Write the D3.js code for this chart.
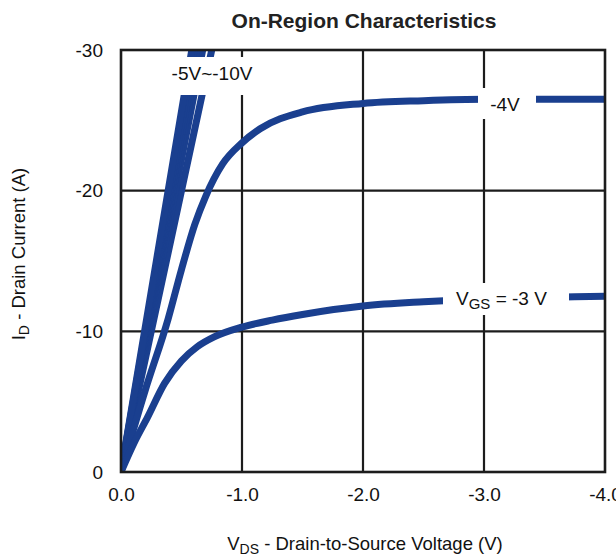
<!DOCTYPE html>
<html>
<head>
<meta charset="utf-8">
<script src="https://cdn.jsdelivr.net/npm/d3@7"></script>
<style>
  body { margin: 0; background: #fff; }
  svg { display: block; font-family: "Liberation Sans", Arial, sans-serif; }
</style>
</head>
<body>
<svg id="chart" width="616" height="556"></svg>
<script>
// ---- data ----
const xTicks = [0, -1, -2, -3, -4];
const yTicks = [0, -10, -20, -30];

const vdsM3 = [0, -0.11, -0.22, -0.36, -0.5, -0.63, -0.77, -1.0, -1.25, -1.5, -2.0, -2.5, -3.0, -3.5, -4.0];
const idM3  = [0, -2.1, -3.9, -6.3, -7.9, -8.9, -9.6, -10.3, -10.8, -11.2, -11.8, -12.1, -12.3, -12.4, -12.5];

const vdsM4 = [0, -0.2, -0.39, -0.5, -0.61, -0.7, -0.84, -1.0, -1.15, -1.5, -2.0, -2.5, -3.0, -4.0];
const idM4  = [0, -5.8, -10.9, -14.4, -17.6, -19.6, -21.9, -23.4, -24.4, -25.6, -26.2, -26.4, -26.5, -26.5];

// -5V ... -10V: nearly linear, V_DS at which I_D reaches -30 A
const bundleNames = ["-5V", "-6V", "-7V", "-8V", "-9V", "-10V"];
const bundleVdsAt30 = [-0.75, -0.675, -0.645, -0.625, -0.605, -0.585];
const bundleVdsMid = [-0.375, -0.337, -0.322, -0.312, -0.302, -0.292];
const bundleIdMid = [-15, -15, -15, -15, -15, -15];

// ---- layout ----
const svg = d3.select("#chart");
const x = d3.scaleLinear().domain([0, -4]).range([121, 605]);
const y = d3.scaleLinear().domain([0, -30]).range([472, 50]);
const blue = "#1a3f8f";
const ink = "#1c1c1c";
const FS = 19;

// grid
const grid = svg.append("g");
grid.selectAll("line.v").data(xTicks.slice(1, -1)).join("line")
  .attr("x1", d => x(d)).attr("x2", d => x(d))
  .attr("y1", y(-30)).attr("y2", y(0))
  .attr("stroke", ink).attr("stroke-width", 2.2);
grid.selectAll("line.h").data(yTicks.slice(1, -1)).join("line")
  .attr("x1", x(0)).attr("x2", x(-4))
  .attr("y1", d => y(d)).attr("y2", d => y(d))
  .attr("stroke", ink).attr("stroke-width", 2.2);

// clip
svg.append("clipPath").attr("id", "plotclip").append("rect")
  .attr("x", x(0)).attr("y", y(-30)).attr("width", x(-4) - x(0)).attr("height", y(0) - y(-30));

const line = d3.line().x(d => x(d[0])).y(d => y(d[1])).curve(d3.curveMonotoneX);
const curves = svg.append("g").attr("clip-path", "url(#plotclip)");

bundleNames.forEach((n, i) => {
  const pts = [[0, 0], [bundleVdsMid[i], bundleIdMid[i]], [bundleVdsAt30[i], -30]];
  curves.append("path").datum(pts)
    .attr("d", d3.line().x(d => x(d[0])).y(d => y(d[1])))
    .attr("fill", "none").attr("stroke", blue).attr("stroke-width", 7)
    .attr("stroke-linecap", "butt");
});

curves.append("path").datum(vdsM4.map((v, i) => [v, idM4[i]]))
  .attr("d", line).attr("fill", "none").attr("stroke", blue).attr("stroke-width", 7);
curves.append("path").datum(vdsM3.map((v, i) => [v, idM3[i]]))
  .attr("d", line).attr("fill", "none").attr("stroke", blue).attr("stroke-width", 7);

// label backgrounds
const bg = svg.append("g");
bg.append("rect").attr("x", 163).attr("y", 57).attr("width", 94).attr("height", 38).attr("fill", "#fff");
bg.append("rect").attr("x", 478).attr("y", 88).attr("width", 58).attr("height", 31).attr("fill", "#fff");
bg.append("rect").attr("x", 443).attr("y", 283).attr("width", 126).attr("height", 32).attr("fill", "#fff");

// frame
svg.append("rect").attr("x", x(0)).attr("y", y(-30))
  .attr("width", x(-4) - x(0)).attr("height", y(0) - y(-30))
  .attr("fill", "none").attr("stroke", ink).attr("stroke-width", 2.6);

// curve labels
const lbl = svg.append("g").attr("fill", "#111").attr("font-size", FS);
lbl.append("text").attr("x", 212).attr("y", 80).attr("text-anchor", "middle").text("-5V~-10V");
lbl.append("text").attr("x", 505).attr("y", 111).attr("text-anchor", "middle").text("-4V");
const vgs = lbl.append("text").attr("x", 456).attr("y", 305);
vgs.append("tspan").text("V");
vgs.append("tspan").attr("font-size", 15).attr("dy", 4).text("GS");
vgs.append("tspan").attr("dy", -4).text(" = -3 V");

// axes
const xAxis = d3.axisBottom(x).tickValues(xTicks).tickSize(0).tickPadding(16)
  .tickFormat(d => d.toFixed(1));
const gx = svg.append("g").attr("transform", `translate(0,${y(0)})`).call(xAxis);
gx.select(".domain").remove();
gx.selectAll("text").attr("font-size", FS).attr("fill", "#111")
  .attr("font-family", "Liberation Sans, Arial, sans-serif");

const yAxis = d3.axisLeft(y).tickValues(yTicks).tickSize(0).tickPadding(18)
  .tickFormat(d => String(d));
const gy = svg.append("g").attr("transform", `translate(${x(0)},0)`).call(yAxis);
gy.select(".domain").remove();
gy.selectAll("text").attr("font-size", FS).attr("fill", "#111")
  .attr("font-family", "Liberation Sans, Arial, sans-serif");

// title
svg.append("text").attr("x", 364).attr("y", 28).attr("text-anchor", "middle")
  .attr("font-size", 21).attr("font-weight", "bold").attr("fill", "#222")
  .text("On-Region Characteristics");

// x label
const xl = svg.append("text").attr("x", 365).attr("y", 550).attr("text-anchor", "middle")
  .attr("font-size", 18.5).attr("fill", "#111");
xl.append("tspan").text("V");
xl.append("tspan").attr("font-size", 14).attr("dy", 4).text("DS");
xl.append("tspan").attr("dy", -4).text(" - Drain-to-Source Voltage (V)");

// y label
const yl = svg.append("text").attr("transform", "translate(25,254) rotate(-90)")
  .attr("text-anchor", "middle").attr("font-size", 18.5).attr("fill", "#111");
yl.append("tspan").text("I");
yl.append("tspan").attr("font-size", 14).attr("dy", 4).text("D");
yl.append("tspan").attr("dy", -4).text(" - Drain Current (A)");
</script>
</body>
</html>
